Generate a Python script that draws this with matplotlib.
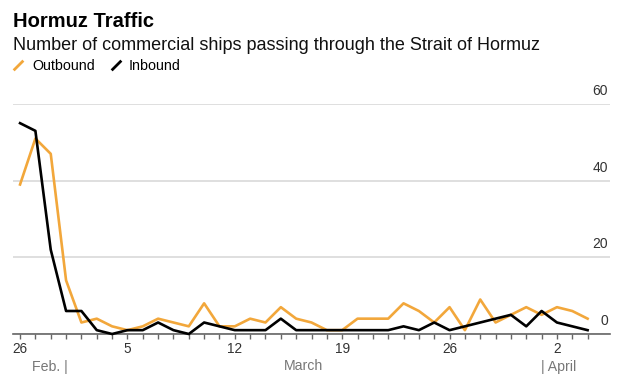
import numpy as np
import matplotlib
matplotlib.use("Agg")
import matplotlib.pyplot as plt
from matplotlib.lines import Line2D
from matplotlib.path import Path

plt.rcParams['font.family'] = ['Liberation Sans', 'DejaVu Sans']

# Daily ship counts, Feb 26 - Apr 4
day_labels = ['26', '27', '28'] + [str(d) for d in range(1, 32)] + ['1', '2', '3', '4']
outbound = [39, 51, 47, 14, 3, 4, 2, 1, 2, 4, 3, 2, 8, 2, 2, 4, 3, 7, 4, 3,
            1, 1, 4, 4, 4, 8, 6, 3, 7, 1, 9, 3, 5, 7, 5, 7, 6, 4]
inbound = [55, 53, 22, 6, 6, 1, 0, 1, 1, 3, 1, 0, 3, 2, 1, 1, 1, 4, 1, 1,
           1, 1, 1, 1, 1, 2, 1, 3, 1, 2, 3, 4, 5, 2, 6, 3, 2, 1]
labeled_days = [0, 7, 14, 21, 28, 35]   # 26, 5, 12, 19, 26, 2
y_ticks = [0, 20, 40, 60]

orange = '#F2A73B'
x = np.arange(len(outbound))

fig = plt.figure(figsize=(6.2, 3.87), dpi=100)
ax = fig.add_axes([13 / 620, 53 / 387, 597 / 620, 230 / 387])

ax.plot(x, outbound, color=orange, lw=1.9, clip_on=False, zorder=3)
ax.plot(x, inbound, color='black', lw=1.9, clip_on=False, zorder=4)

ax.set_xlim(-0.46, 38.46)
ax.set_ylim(0, 60)

# gridlines + right-side labels sitting above the lines
ax.set_yticks(y_ticks)
ax.yaxis.grid(True, color='#dcdcdc', lw=1.3)
ax.set_axisbelow(True)
ax.tick_params(axis='y', length=0, labelleft=False)
for v in y_ticks:
    ax.annotate(str(v), xy=(1, v), xycoords=('axes fraction', 'data'),
                xytext=(-2, 6), textcoords='offset pixels',
                ha='right', va='bottom', fontsize=10, color='#333333')

# x axis: a tick each day, labels on selected days
ax.set_xticks(x)
ax.set_xticklabels([day_labels[i] if i in labeled_days else '' for i in x])
ax.tick_params(axis='x', direction='out', length=3.6, width=1, color='#666666',
               pad=2.5, labelsize=9.8, labelcolor='#333333')

for s in ['top', 'left', 'right']:
    ax.spines[s].set_visible(False)
ax.spines['bottom'].set_color('#666666')
ax.spines['bottom'].set_linewidth(1.2)

month_kw = dict(xycoords=('data', 'axes fraction'), textcoords='offset pixels',
                va='baseline', fontsize=10.2, color='#777777')
ax.annotate('Feb. |', xy=(3, 0), xytext=(2, -36.5), ha='right', **month_kw)
ax.annotate('March', xy=(18.5, 0), xytext=(0, -36.5), ha='center', **month_kw)
ax.annotate('| April', xy=(34, 0), xytext=(-1, -36.5), ha='left', **month_kw)

# titles
fig.text(13 / 620, 1 - 27 / 387, 'Hormuz Traffic', fontsize=14.5,
         fontweight='bold', va='baseline', ha='left')
fig.text(13 / 620, 1 - 50.5 / 387,
         'Number of commercial ships passing through the Strait of Hormuz',
         fontsize=13, va='baseline', ha='left', color='#111111')

# legend with slash markers
slash = Path([(-1, -1), (1, 1)], [Path.MOVETO, Path.LINETO])
handles = [Line2D([], [], color=orange, marker=slash, linestyle='None',
                  markersize=7, markeredgewidth=2),
           Line2D([], [], color='black', marker=slash, linestyle='None',
                  markersize=7, markeredgewidth=2)]
fig.legend(handles, ['Outbound', 'Inbound'], loc='upper left',
           bbox_to_anchor=(12 / 620, 1 - 59 / 387), ncol=2, frameon=False,
           fontsize=10.3, handlelength=0.9, handletextpad=0.5,
           columnspacing=1.0, borderaxespad=0, borderpad=0)

fig.savefig('out.png', dpi=100)
